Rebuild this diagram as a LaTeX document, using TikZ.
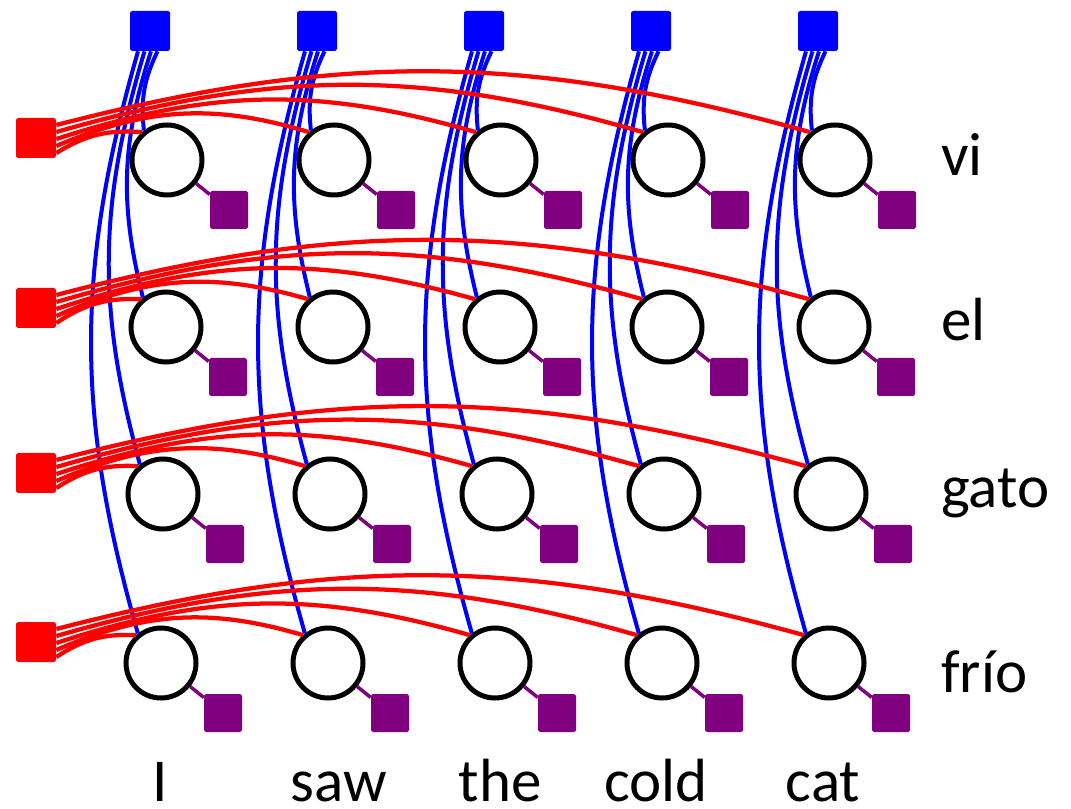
\documentclass[tikz,border=0pt]{standalone}
\usepackage{fontspec}
\setmainfont{Carlito}
\usepackage{tikz}
\definecolor{FacBlue}{HTML}{0000FF}
\definecolor{FacRed}{HTML}{FF0000}
\definecolor{FacPurple}{HTML}{800080}
\tikzset{
  linkvar/.style={circle,draw=black,fill=white,line width=0.10cm,minimum size=1.40cm,inner sep=0pt},
  srcfac/.style={fill=FacBlue,rounded corners=1pt,minimum size=0.80cm,inner sep=0pt},
  tgtfac/.style={fill=FacRed,rounded corners=1pt,minimum size=0.80cm,inner sep=0pt},
  unifac/.style={fill=FacPurple,rounded corners=1pt,minimum size=0.76cm,inner sep=0pt},
  word/.style={inner sep=0pt,font=\fontsize{34.7}{40}\selectfont}
}

\begin{document}
\begin{tikzpicture}[x=1cm,y=1cm]
\path[use as bounding box] (0,0) rectangle (21.42,16.16);
\foreach \col in {0,...,4}
  \node[srcfac] (s\col) at ({3.00+3.34*\col},15.54) {};
\foreach \row/\y/\f/\dx in {0/12.96/13.40/0,1/9.62/10.00/-0.02,2/6.28/6.70/-0.08,3/2.90/3.32/-0.12} {
  \node[tgtfac] (t\row) at (0.72,\f) {};
  \foreach \col in {0,...,4} {
    \node[linkvar] (a\row\col) at ({3.34+3.34*\col+\dx},\y) {};
    \node[unifac] (u\row\col) at ({4.58+3.34*\col+\dx},{\y-1.00}) {};
    \draw[FacPurple,line width=0.07cm] (a\row\col) -- (u\row\col);
  }
}
\foreach \col in {0,...,4}
  \foreach \row/\o in {0/0.15,1/0.02,2/-0.11,3/-0.24}
    \draw[FacBlue,line width=0.08cm] ([xshift=\o cm]s\col.south) to[bend right=16] (a\row\col.128);
\foreach \row in {0,...,3}
  \foreach \col/\o/\b in {0/-0.30/18,1/-0.16/20,2/-0.02/17,3/0.12/16,4/0.26/15}
    \draw[FacRed,line width=0.085cm] ([yshift=\o cm]t\row.east) to[bend left=\b] (a\row\col.132);
\node[word,anchor=base west] (l0) at (18.82,12.64) {vi};
\node[word,anchor=base west] (l1) at (18.82,9.34) {el};
\node[word,anchor=base west] (l2) at (18.82,6.00) {gato};
\node[word,anchor=base west] (l3) at (18.82,2.32) {frío};
\node[word,anchor=base] (w0) at (3.20,0.14) {I};
\node[word,anchor=base] (w1) at (6.78,0.14) {saw};
\node[word,anchor=base] (w2) at (10.00,0.14) {the};
\node[word,anchor=base] (w3) at (13.12,0.14) {cold};
\node[word,anchor=base] (w4) at (16.46,0.14) {cat};
\end{tikzpicture}
\end{document}
